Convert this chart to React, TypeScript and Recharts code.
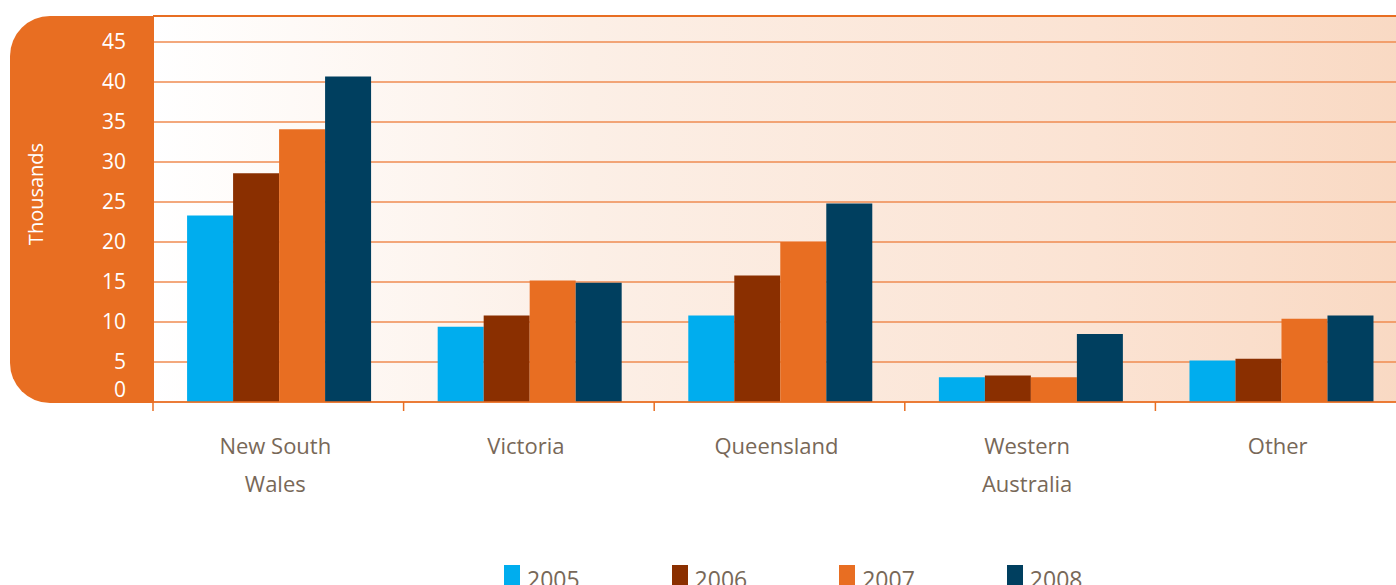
import React from 'react'
import { BarChart, Bar, XAxis, YAxis, CartesianGrid, ReferenceLine, Legend } from 'recharts'

const categories = ['New South Wales', 'Victoria', 'Queensland', 'Western Australia', 'Other']
const tickLabels = [['New South', 'Wales'], ['Victoria'], ['Queensland'], ['Western', 'Australia'], ['Other']]
const yTicks = [0, 5, 10, 15, 20, 25, 30, 35, 40, 45]

const v2005 = [23.3, 9.4, 10.8, 3.1, 5.2]
const v2006 = [28.6, 10.8, 15.8, 3.3, 5.4]
const v2007 = [34.1, 15.2, 20.0, 3.1, 10.4]
const v2008 = [40.7, 14.9, 24.8, 8.5, 10.8]

const years = ['2005', '2006', '2007', '2008']
const colors = ['#00adee', '#8a2f00', '#e86e22', '#003f5f']

const data = categories.map((c, i) => ({
  name: c,
  y2005: v2005[i],
  y2006: v2006[i],
  y2007: v2007[i],
  y2008: v2008[i],
}))

const PLOT_LEFT = 153
const PLOT_TOP = 16
const PLOT_W = 1253
const PLOT_H = 386
const BAND = PLOT_W / categories.length
const ORANGE = '#e86e22'
const GRID = '#ef8b50'
const TEXT = '#786858'

const XTick = (props: any) => {
  const { x, y, payload } = props
  const idx = categories.indexOf(payload.value)
  const lines = tickLabels[idx] || [payload.value]
  return (
    <g>
      <line x1={x - BAND / 2} x2={x - BAND / 2} y1={y} y2={y + 9} stroke={ORANGE} strokeWidth={1.5} />
      {lines.map((l, i) => (
        <text key={i} x={x - 3} y={y + 52 + i * 38} textAnchor="middle" fill={TEXT} fontSize={22}>
          {l}
        </text>
      ))}
    </g>
  )
}

const YTick = (props: any) => {
  const { x, y, payload } = props
  const shift = payload.value === 0 ? -12 : 0
  return (
    <text x={x - 27} y={y + shift} dy="0.35em" textAnchor="end" fill="#ffffff" fontSize={21}>
      {payload.value}
    </text>
  )
}

const LegendContent = (props: any) => {
  const items = props.payload || []
  return (
    <div style={{ display: 'flex', gap: 92 }}>
      {items.map((it: any) => (
        <div key={it.value} style={{ display: 'flex', alignItems: 'flex-start' }}>
          <div style={{ width: 16, height: 24, background: it.color, marginRight: 7 }} />
          <span style={{ color: TEXT, fontSize: 23, lineHeight: '28px' }}>{it.value}</span>
        </div>
      ))}
    </div>
  )
}

export default function App() {
  return (
    <div
      style={{
        position: 'fixed',
        left: 0,
        top: 0,
        width: 1396,
        height: 585,
        overflow: 'hidden',
        background: '#ffffff',
        fontFamily: '"Open Sans", sans-serif',
      }}
    >
      <div
        style={{
          position: 'absolute',
          left: 10,
          top: PLOT_TOP,
          width: PLOT_LEFT - 10,
          height: PLOT_H + 1,
          background: ORANGE,
          borderRadius: '40px 0 0 40px',
        }}
      />
      <div
        style={{
          position: 'absolute',
          left: PLOT_LEFT,
          top: PLOT_TOP,
          width: PLOT_W,
          height: PLOT_H,
          background: 'linear-gradient(to right, #ffffff 0%, #fcefe6 35%, #fbe3d3 75%, #f9d9c3 100%)',
        }}
      />
      <div style={{ position: 'absolute', left: 0, top: 0 }}>
        <BarChart
          width={PLOT_LEFT + PLOT_W}
          height={585}
          data={data}
          margin={{ top: PLOT_TOP, right: 0, bottom: 83, left: 0 }}
          barCategoryGap="13.6%"
          barGap={0}
        >
          <CartesianGrid vertical={false} stroke={GRID} strokeWidth={1.5} />
          <ReferenceLine y={48.25} stroke={ORANGE} strokeWidth={2} />
          <XAxis
            dataKey="name"
            height={100}
            tickSize={0}
            tickMargin={0}
            tickLine={false}
            axisLine={{ stroke: ORANGE, strokeWidth: 1.5 }}
            tick={<XTick />}
            interval={0}
          />
          <YAxis
            width={PLOT_LEFT}
            domain={[0, 48.25]}
            ticks={yTicks}
            allowDataOverflow
            tickSize={0}
            tickMargin={0}
            tickLine={false}
            axisLine={{ stroke: ORANGE, strokeWidth: 2 }}
            tick={<YTick />}
            label={{
              content: () => (
                <text x={36} y={194} transform="rotate(-90 36 194)" textAnchor="middle" dy="0.35em" fill="#ffffff" fontSize={20}>
                  Thousands
                </text>
              ),
            }}
          />
          <Legend
            verticalAlign="middle"
            align="center"
            content={<LegendContent />}
            wrapperStyle={{ left: 504, top: 565, width: 700, height: 30 }}
          />
          {years.map((yr, i) => (
            <Bar key={yr} dataKey={'y' + yr} name={yr} fill={colors[i]} isAnimationActive={false} />
          ))}
        </BarChart>
      </div>
    </div>
  )
}
